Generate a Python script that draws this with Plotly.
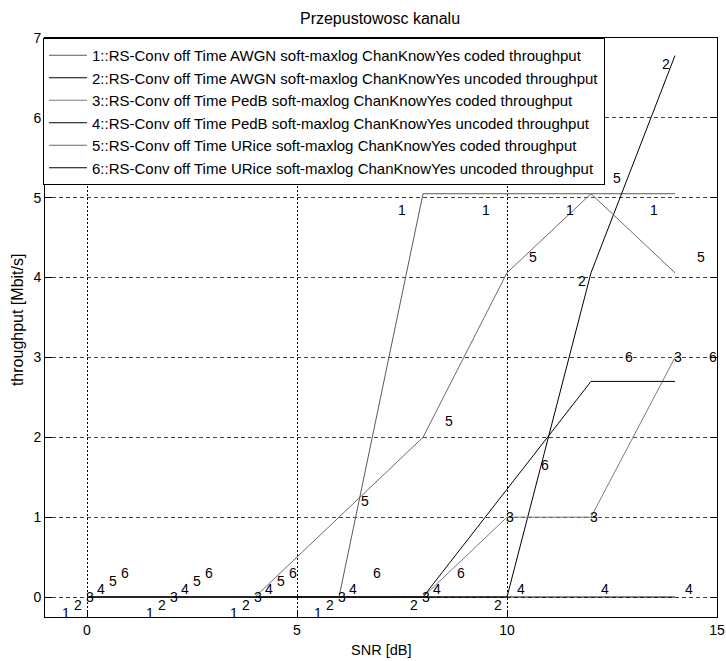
import plotly.graph_objects as go

# ---- data ----
snr_db = [0, 2, 4, 6, 8, 10, 12, 14]
awgn_coded = [0, 0, 0, 0, 5.05, 5.05, 5.05, 5.05]
awgn_uncoded = [0, 0, 0, 0, 0, 0, 4.06, 6.78]
pedb_coded = [0, 0, 0, 0, 0, 1.0, 1.0, 3.0]
pedb_uncoded = [0, 0, 0, 0, 0, 0, 0, 0]
urice_coded = [0, 0, 0, 1.0, 2.0, 4.06, 5.05, 4.06]
urice_uncoded = [0, 0, 0, 0, 0, 1.35, 2.7, 2.7]

series_names = [
    "1::RS-Conv off Time AWGN soft-maxlog ChanKnowYes coded throughput",
    "2::RS-Conv off Time AWGN soft-maxlog ChanKnowYes uncoded throughput",
    "3::RS-Conv off Time PedB soft-maxlog ChanKnowYes coded throughput",
    "4::RS-Conv off Time PedB soft-maxlog ChanKnowYes uncoded throughput",
    "5::RS-Conv off Time URice soft-maxlog ChanKnowYes coded throughput",
    "6::RS-Conv off Time URice soft-maxlog ChanKnowYes uncoded throughput",
]
series_values = [awgn_coded, awgn_uncoded, pedb_coded, pedb_uncoded, urice_coded, urice_uncoded]
x_ticks = [0, 5, 10, 15]
y_ticks = [0, 1, 2, 3, 4, 5, 6, 7]

FONT = "Liberation Sans, Arial, sans-serif"
colors = ["#5a5a5a", "#000000", "#7a7a7a", "#000000", "#6a6a6a", "#000000"]

W, H = 726, 661

fig = go.Figure()
annotations = []
for k, (name, vals) in enumerate(zip(series_names, series_values)):
    fig.add_trace(go.Scatter(
        x=snr_db, y=vals, mode="lines", name=name,
        line=dict(color=colors[k], width=1),
    ))
    for xv, yv in zip(snr_db, vals):
        annotations.append(dict(
            x=xv, y=yv, xref="x", yref="y", text=str(k + 1), showarrow=False,
            xshift=-21 + 11.8 * k, yshift=-16 + 8 * k,
            font=dict(family=FONT, size=14, color="#000000"),
        ))

# axis titles as paper-positioned text
annotations.append(dict(text="SNR [dB]", x=0.5, y=-0.057, xref="paper", yref="paper",
                        showarrow=False, xanchor="center", yanchor="middle",
                        font=dict(family=FONT, size=14.5, color="#000000")))
annotations.append(dict(text="throughput [Mbit/s]", x=-0.040, y=0.513, xref="paper", yref="paper",
                        showarrow=False, xanchor="center", yanchor="middle", textangle=-90,
                        font=dict(family=FONT, size=16, color="#000000")))

fig.update_layout(
    width=W, height=H,
    margin=dict(l=45, r=9, t=38, b=44, autoexpand=False),
    paper_bgcolor="white", plot_bgcolor="white",
    font=dict(family=FONT, size=14, color="#000000"),
    title=dict(text="Przepustowosc kanalu", x=380 / W, xanchor="center",
               y=1 - 18 / H, yanchor="middle", font=dict(size=16)),
    showlegend=True,
    legend=dict(x=-0.003, y=1.0, xanchor="left", yanchor="top",
                bgcolor="white", bordercolor="#000000", borderwidth=1,
                font=dict(size=15), itemwidth=38),
    annotations=annotations,
)
fig.update_xaxes(
    range=[-1, 15], tickvals=x_ticks, ticks="inside", ticklen=7, tickcolor="black",
    showline=True, linecolor="black", linewidth=1, mirror="ticks", automargin=False,
    showgrid=True, gridcolor="#000000", griddash="2px,2px", gridwidth=1,
    zeroline=False, ticklabeloverflow="allow",
)
fig.update_yaxes(
    range=[-0.25, 7], tickvals=y_ticks, ticks="inside", ticklen=7, tickcolor="black",
    showline=True, linecolor="black", linewidth=1, mirror="ticks", automargin=False,
    showgrid=True, gridcolor="#444444", griddash="4px,3px", gridwidth=1,
    zeroline=False, ticklabeloverflow="allow",
)

# remove the default page margin so the 726x661 figure fills the window exactly
fig.write_html("out.html", config={"displayModeBar": False},
               post_script="document.body.style.margin='0px';")
